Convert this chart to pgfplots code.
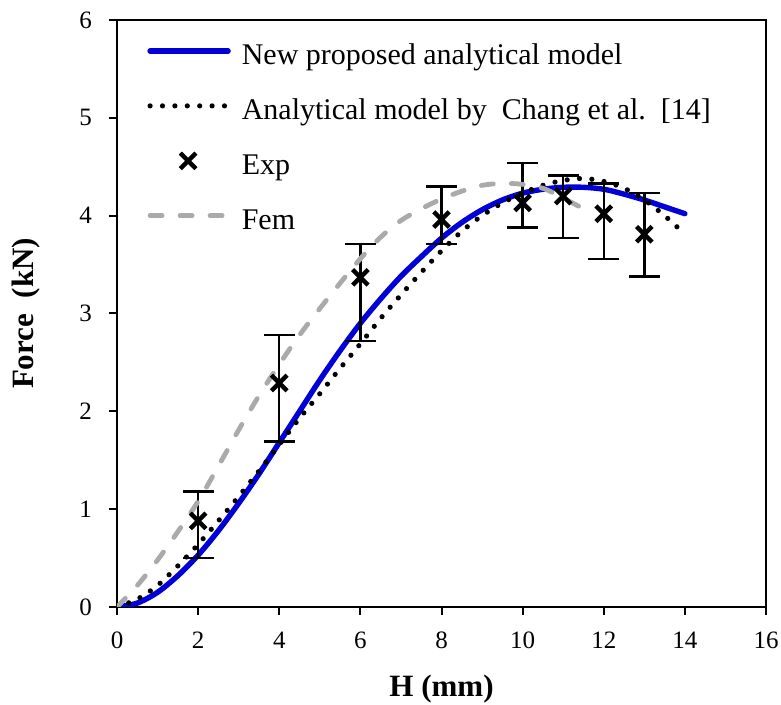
\documentclass[border=0pt]{standalone}
\usepackage{fontspec}
\setmainfont{Liberation Serif}
\usepackage{pgfplots}
\pgfplotsset{compat=1.18}
\definecolor{myblue}{RGB}{0,0,215}
\definecolor{femgray}{RGB}{170,170,170}
\pgfplotsset{
  linelegend/.style={legend image code/.code={\draw[##1] (1pt,0.3em) -- (40pt,0.3em);}},
  marklegend/.style={legend image code/.code={\draw[##1] plot coordinates {(20pt,0.3em)};}},
}
\begin{document}
\begin{tikzpicture}
\begin{axis}[
  scale only axis,
  width=324.5pt, height=293.5pt,
  xmin=0, xmax=16, ymin=0, ymax=6,
  xtick={0,2,...,16}, ytick={0,1,...,6},
  tick align=outside, major tick length=4pt,
  xtick pos=bottom, ytick pos=left,
  axis line style={line width=1pt},
  every tick/.style={line width=1pt, black},
  /pgf/number format/assume math mode=true,
  tick label style={font=\fontsize{12.5}{14}\selectfont},
  xticklabel style={yshift=-5pt},
  yticklabel style={xshift=-5pt},
  xlabel={\textbf{H (mm)}},
  ylabel={\textbf{Force\ \ (kN)}},
  label style={font=\fontsize{15.5}{18}\selectfont},
  xlabel style={at={(axis description cs:0.5,-0.1533)}, anchor=base},
  ylabel style={at={(axis description cs:-0.1294,0.5)}, anchor=base},
  legend style={at={(axis description cs:0,1)}, anchor=north west,
    xshift=12pt, yshift=-9pt, draw=none, fill=none,
    font=\fontsize{15}{18}\selectfont, row sep=13pt, column sep=5.5pt,
    nodes={inner sep=0pt, text height=11pt, text depth=3.5pt}},
  legend cell align=left,
]
\addplot[myblue, line width=2.7pt, line cap=round, smooth, linelegend]
coordinates {
(0,0) (0.5,0.04) (1,0.15) (1.5,0.32) (2,0.53) (2.5,0.78) (3,1.06) (3.5,1.36)
(4,1.68) (4.5,2.00) (5,2.32) (5.5,2.62) (6,2.90) (6.5,3.15) (7,3.38) (7.5,3.58)
(8,3.77) (8.5,3.93) (9,4.06) (9.5,4.16) (10,4.23) (10.5,4.27) (11,4.29) (11.5,4.29)
(12,4.27) (12.5,4.22) (13,4.16) (13.5,4.09) (14,4.02)};
\addlegendentry{New proposed analytical model}

\addplot[black, line width=2.6pt, line cap=round, smooth, dash pattern=on 0pt off 6.2pt, linelegend]
coordinates {
(0,0) (0.5,0.08) (1,0.22) (1.5,0.42) (2,0.64) (2.5,0.88) (3,1.13) (3.5,1.39)
(4,1.66) (4.5,1.93) (5,2.18) (5.5,2.44) (6,2.69) (6.5,2.95) (7,3.19) (7.5,3.42)
(8,3.64) (8.5,3.84) (9,4.00) (9.5,4.13) (10,4.23) (10.5,4.31) (11,4.36) (11.5,4.38)
(12,4.35) (12.5,4.28) (13,4.16) (13.5,4.00) (14,3.81)};
\addlegendentry{Analytical model by\ \ Chang et al.\ \ [14]}

\addplot[black, only marks, mark=x, mark size=5.5pt,
  mark options={line width=2.2pt, solid}, marklegend,
  error bars/.cd, y dir=both, y explicit,
  error bar style={line width=1.2pt, black},
  error mark options={rotate=90, mark size=7.75pt, line width=1.2pt, black},
  ]
coordinates {
(2,0.88) += (0,0.30) -= (0,0.38)
(4,2.29) += (0,0.49) -= (0,0.60)
(6,3.37) += (0,0.34) -= (0,0.65)
(8,3.96) += (0,0.34) -= (0,0.25)
(10,4.13) += (0,0.41) -= (0,0.25)
(11,4.20) += (0,0.21) -= (0,0.43)
(12,4.02) += (0,0.31) -= (0,0.46)
(13,3.81) += (0,0.42) -= (0,0.43)};
\addlegendentry{Exp}

\addplot[femgray, line width=2.4pt, line cap=round, smooth, dash pattern=on 6pt off 9pt, linelegend]
coordinates {
(0,0) (0.5,0.22) (1,0.48) (1.5,0.77) (2,1.08) (2.5,1.44) (3,1.81) (3.5,2.16)
(4,2.48) (4.5,2.78) (5,3.05) (5.5,3.31) (6,3.56) (6.5,3.78) (7,3.95) (7.5,4.07)
(8,4.17) (8.5,4.25) (9,4.31) (9.5,4.33) (10,4.32) (10.5,4.28) (11,4.18) (11.5,4.07)};
\addlegendentry{Fem}
\end{axis}
\pgfresetboundingbox
\path (current axis.south west) ++(-58.5pt,-49pt) coordinate (bl);
\path (current axis.north east) ++(7.5pt,10pt) coordinate (tr);
\useasboundingbox (bl) rectangle (tr);
\end{tikzpicture}
\end{document}
